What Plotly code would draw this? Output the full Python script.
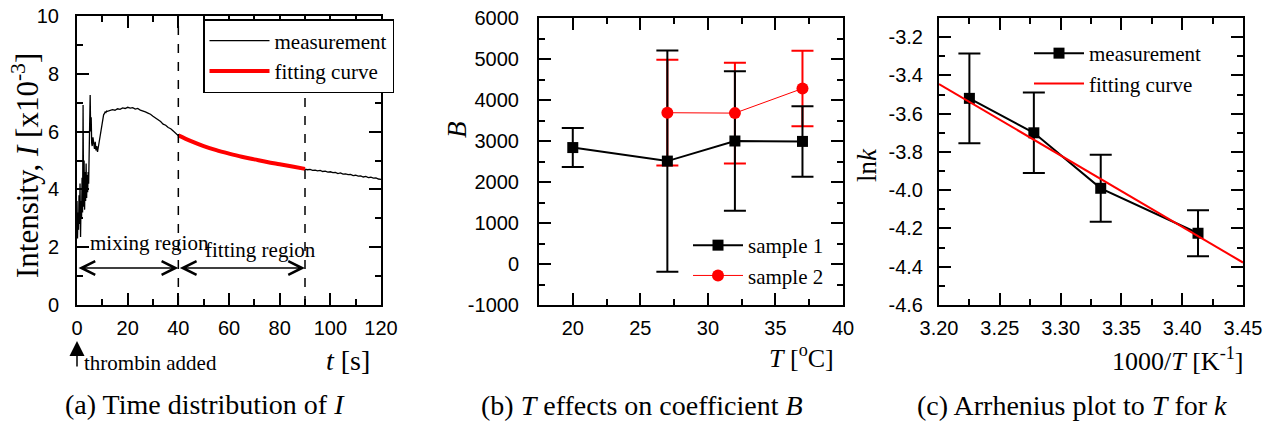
import plotly.graph_objects as go

W, H = 1269, 425

# (a) time distribution of I
a_t_early = [0, 0.2, 0.4, 0.6, 0.8, 1.0, 1.2, 1.4, 1.6, 1.8, 2.0, 2.2, 2.4, 2.6, 2.8,
             3.0, 3.2, 3.4, 3.6, 3.8, 4.0, 4.2, 4.4, 4.6, 4.8, 5.0, 5.2, 5.4, 5.6, 5.8,
             6.0, 6.3, 6.6, 6.9, 7.2, 7.5, 7.8, 8.1, 8.4, 8.7, 9.0, 9.3, 9.6, 9.9,
             10.2, 10.5, 10.8, 11.1, 11.4, 11.7]
a_I_early = [3.6, 2.3, 3.2, 2.6, 3.8, 2.8, 4.2, 2.35, 3.6, 3.0, 4.4, 3.2, 6.92, 3.4, 5.0,
             3.3, 4.6, 3.6, 4.9, 3.7, 4.5, 3.9, 4.6, 4.2, 5.4, 6.3, 7.27, 6.0, 6.5, 5.6,
             5.5, 5.8, 5.45, 5.4, 5.65, 5.35, 5.5, 5.3, 5.45, 5.6, 5.75, 5.95, 6.2, 6.35,
             6.5, 6.58, 6.62, 6.68, 6.66, 6.71]
a_t = [12, 13, 14, 15, 16, 17, 18, 19, 20, 21,
       22, 23, 24, 25, 26, 27, 28, 29, 30, 31,
       32, 33, 34, 35, 36, 37, 38, 39, 40, 41,
       42, 43, 44, 45, 46, 47, 48, 49, 50, 51,
       52, 53, 54, 55, 56, 57, 58, 59, 60, 61,
       62, 63, 64, 65, 66, 67, 68, 69, 70, 71,
       72, 73, 74, 75, 76, 77, 78, 79, 80, 81,
       82, 83, 84, 85, 86, 87, 88, 89, 90, 91,
       92, 93, 94, 95, 96, 97, 98, 99, 100, 101,
       102, 103, 104, 105, 106, 107, 108, 109, 110, 111,
       112, 113, 114, 115, 116, 117, 118, 119, 120]
a_I = [6.70, 6.72, 6.76, 6.74, 6.79, 6.77, 6.82, 6.80, 6.84, 6.81,
       6.83, 6.78, 6.80, 6.74, 6.72, 6.68, 6.64, 6.60, 6.53, 6.48,
       6.40, 6.35, 6.26, 6.22, 6.14, 6.10, 6.02, 5.95, 5.86, 5.84,
       5.80, 5.74, 5.72, 5.66, 5.64, 5.60, 5.55, 5.56, 5.49, 5.47,
       5.43, 5.42, 5.37, 5.36, 5.33, 5.30, 5.27, 5.27, 5.22, 5.23,
       5.18, 5.16, 5.14, 5.13, 5.09, 5.10, 5.06, 5.04, 5.03, 5.02,
       4.98, 4.99, 4.95, 4.96, 4.91, 4.92, 4.89, 4.87, 4.85, 4.86,
       4.81, 4.82, 4.79, 4.78, 4.76, 4.76, 4.72, 4.74, 4.70, 4.68,
       4.69, 4.66, 4.67, 4.64, 4.66, 4.62, 4.63, 4.60, 4.61, 4.58,
       4.59, 4.55, 4.57, 4.53, 4.54, 4.51, 4.52, 4.48, 4.49, 4.46,
       4.47, 4.43, 4.45, 4.41, 4.42, 4.39, 4.40, 4.36, 4.35]
a_fit_t = [40, 45, 50, 55, 60, 65, 70, 75, 80, 85, 90]
a_fit_I = [5.87, 5.67, 5.50, 5.36, 5.24, 5.13, 5.04, 4.95, 4.87, 4.79, 4.71]
a_regions = [0, 40, 90]

# (b) T effects on coefficient B
b_T1 = [20, 27, 32, 37]
b_B1 = [2840, 2510, 3000, 2990]
b_err1 = [475, 2700, 1700, 860]
b_T2 = [27, 32, 37]
b_B2 = [3690, 3680, 4280]
b_err2 = [1290, 1230, 920]
b_yticks = [-1000, 0, 1000, 2000, 3000, 4000, 5000, 6000]
b_yticktext = ["-1000", "0", "1000", "2000", "3000", "4000", "5000", "6000"]

# (c) Arrhenius plot
c_x = [3.225, 3.278, 3.333, 3.413]
c_lnk = [-3.52, -3.70, -3.99, -4.225]
c_err = [0.235, 0.21, 0.175, 0.12]
c_fit_x = [3.20, 3.45]
c_fit_y = [-3.445, -4.378]
c_yticks = [-4.6, -4.4, -4.2, -4.0, -3.8, -3.6, -3.4, -3.2]
c_yticktext = ["-4.6", "-4.4", "-4.2", "-4.0", "-3.8", "-3.6", "-3.4", "-3.2"]

SERIF = "Liberation Serif"
SANS = "Liberation Sans"


def px(x):
    return x / W


def py(y):
    return 1 - y / H


def axis(domain, rng, dtick, minor, anchor, standoff, **kw):
    d = dict(domain=domain, range=rng, anchor=anchor, automargin=False, showline=True,
             linecolor="black", linewidth=2, mirror="ticks", ticks="inside", ticklen=12,
             tickwidth=2, tickcolor="black", showgrid=False, zeroline=False,
             minor=dict(dtick=minor, ticks="inside", ticklen=6, tickwidth=2,
                        tickcolor="black", showgrid=False),
             tickfont=dict(family=SANS, size=20, color="black"),
             ticklabelstandoff=standoff)
    if dtick is not None:
        d["dtick"] = dtick
    d.update(kw)
    return d


fig = go.Figure()

# panel a
fig.add_trace(go.Scatter(x=a_t_early + a_t, y=a_I_early + a_I, mode="lines",
                         line=dict(color="black", width=1.3), name="measurement",
                         xaxis="x", yaxis="y", legend="legend"))
fig.add_trace(go.Scatter(x=a_fit_t, y=a_fit_I, mode="lines", line_shape="spline",
                         line=dict(color="red", width=4), name="fitting curve",
                         xaxis="x", yaxis="y", legend="legend"))

# panel b
fig.add_trace(go.Scatter(x=b_T2, y=b_B2, mode="markers", showlegend=False,
                         marker=dict(size=1, color="red", opacity=0),
                         error_y=dict(type="data", array=b_err2, color="red",
                                      thickness=2, width=11),
                         xaxis="x2", yaxis="y2"))
fig.add_trace(go.Scatter(x=b_T1, y=b_B1, mode="lines+markers", name="sample 1",
                         line=dict(color="black", width=2),
                         marker=dict(symbol="square", size=11, color="black"),
                         error_y=dict(type="data", array=b_err1, color="black",
                                      thickness=2, width=11),
                         xaxis="x2", yaxis="y2", legend="legend2"))
fig.add_trace(go.Scatter(x=b_T2, y=b_B2, mode="lines+markers", name="sample 2",
                         line=dict(color="red", width=1),
                         marker=dict(symbol="circle", size=12, color="red"),
                         xaxis="x2", yaxis="y2", legend="legend2"))

# panel c
fig.add_trace(go.Scatter(x=c_x, y=c_lnk, mode="lines+markers", name="measurement",
                         line=dict(color="black", width=2),
                         marker=dict(symbol="square", size=11, color="black"),
                         error_y=dict(type="data", array=c_err, color="black",
                                      thickness=2, width=11),
                         xaxis="x3", yaxis="y3", legend="legend3"))
fig.add_trace(go.Scatter(x=c_fit_x, y=c_fit_y, mode="lines", name="fitting curve",
                         line=dict(color="red", width=2),
                         xaxis="x3", yaxis="y3", legend="legend3"))

# dashed region boundaries
for xv in a_regions[1:]:
    fig.add_shape(type="line", x0=xv, x1=xv, y0=0, y1=10, xref="x", yref="y",
                  line=dict(color="black", width=1.5, dash="dash"))

ann = []
# double arrows for the regions
for x0, x1 in zip(a_regions[:-1], a_regions[1:]):
    ann.append(dict(x=x1, y=1.28, ax=x0, ay=1.28, xref="x", yref="y", axref="x", ayref="y",
                    text="", showarrow=True, arrowhead=5, startarrowhead=5,
                    arrowside="end+start", arrowsize=1.8, startarrowsize=1.8,
                    arrowwidth=1.5, arrowcolor="black"))
ann.append(dict(x=0, y=py(341), xref="x", yref="paper", ax=0, ay=27, text="",
                showarrow=True, arrowhead=2, arrowsize=2, arrowwidth=1.5,
                arrowcolor="black"))


def txt(x, y, s, size, xanchor="center", angle=0):
    ann.append(dict(x=px(x), y=py(y), xref="paper", yref="paper", text=s, showarrow=False,
                    xanchor=xanchor, yanchor="middle", textangle=angle,
                    font=dict(family=SERIF, size=size, color="black")))


txt(88, 243, "mixing region", 21, "left")
txt(203, 250, "fitting region", 21, "left")
txt(82, 363, "thrombin added", 21, "left")

# axis titles
txt(25, 166, "Intensity, <i>I</i> [x10<sup>-3</sup>]", 31, angle=-90)
txt(372, 360, "<i>t</i> [s]", 28, "right")
txt(457, 130, "<i>B</i>", 27, angle=-90)
txt(836, 356, "<i>T</i> [<sup>o</sup>C]", 26, "right")
txt(867, 165, "ln<i>k</i>", 27, angle=-90)
txt(1245, 359, "1000/<i>T</i> [K<sup>-1</sup>]", 26, "right")

# captions
txt(205, 404, "(a) Time distribution of <i>I</i>", 28)
txt(642, 405, "(b) <i>T</i> effects on coefficient <i>B</i>", 28)
txt(1072, 405, "(c) Arrhenius plot to <i>T</i> for <i>k</i>", 28)

leg_font = dict(family=SERIF, size=21, color="black")
fig.update_layout(
    width=W, height=H,
    margin=dict(l=0, r=0, t=0, b=0, autoexpand=False),
    plot_bgcolor="white", paper_bgcolor="white",
    xaxis=axis([px(77), px(381)], [0, 120], 20, 10, "y", 4),
    yaxis=axis([py(305), py(16)], [0, 10], 2, 1, "x", 12),
    xaxis2=axis([px(539), px(843)], [17.5, 40], 5, 2.5, "y2", 4),
    yaxis2=axis([py(305), py(18)], [-1000, 6000], None, 500, "x2", 14,
                tickvals=b_yticks, ticktext=b_yticktext),
    xaxis3=axis([px(939), px(1243)], [3.2, 3.45], 0.05, 0.025, "y3", 4,
                tickformat=".2f"),
    yaxis3=axis([py(305), py(18)], [-4.6, -3.1], None, 0.1, "x3", 10,
                tickvals=c_yticks, ticktext=c_yticktext),
    legend=dict(x=px(203), y=py(19), xanchor="left", yanchor="top", bgcolor="white",
                bordercolor="black", borderwidth=1.5, font=leg_font, tracegroupgap=0,
                itemwidth=60),
    legend2=dict(x=px(688), y=py(225), xanchor="left", yanchor="top",
                 bgcolor="rgba(0,0,0,0)", font=leg_font, itemwidth=50),
    legend3=dict(x=px(1029), y=py(33), xanchor="left", yanchor="top",
                 bgcolor="rgba(0,0,0,0)", font=leg_font, itemwidth=50),
    annotations=ann,
)

fig.write_html("out.html", config={"displayModeBar": False},
               post_script="document.body.style.margin = '0';")
